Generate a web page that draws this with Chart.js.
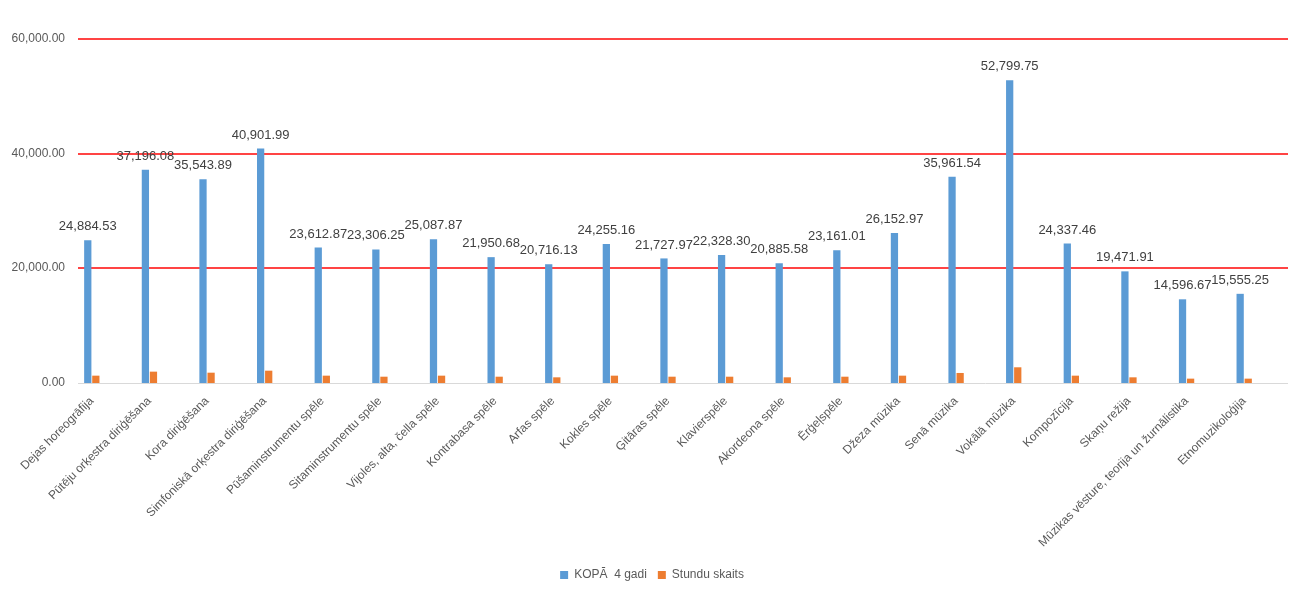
<!DOCTYPE html>
<html lang="lv">
<head>
    <meta charset="UTF-8">
    <title>KOPĀ 4 gadi</title>
    <script src="https://cdn.jsdelivr.net/npm/chart.js"></script>
    <style>
        html, body { margin: 0; padding: 0; background: #fff; }
        .wrap { width: 1296px; height: 591px; }
    </style>
</head>
<body>
    <div class="wrap"><canvas id="myChart"></canvas></div>
<script>
    var categories = [
        'Dejas horeogrāfija', 'Pūtēju orķestra diriģēšana', 'Kora diriģēšana',
        'Simfoniskā orķestra diriģēšana', 'Pūšaminstrumentu spēle', 'Sitaminstrumentu spēle',
        'Vijoles, alta, čella spēle', 'Kontrabasa spēle', 'Arfas spēle', 'Kokles spēle',
        'Ģitāras spēle', 'Klavierspēle', 'Akordeona spēle', 'Ērģeļspēle', 'Džeza mūzika',
        'Senā mūzika', 'Vokālā mūzika', 'Kompozīcija', 'Skaņu režija',
        'Mūzikas vēsture, teorija un žurnālistika', 'Etnomuzikoloģija'
    ];
    var kopa4gadi = [
        24884.53, 37196.08, 35543.89, 40901.99, 23612.87, 23306.25, 25087.87,
        21950.68, 20716.13, 24255.16, 21727.97, 22328.30, 20885.58, 23161.01,
        26152.97, 35961.54, 52799.75, 24337.46, 19471.91, 14596.67, 15555.25
    ];
    // small bars so only rough
    var stunduSkaits = [
        1280, 1980, 1800, 2150, 1280, 1100, 1280,
        1100, 990, 1280, 1100, 1100, 990, 1100,
        1280, 1750, 2740, 1280, 990, 760, 760
    ];
    var yTicks = [0, 20000, 40000, 60000];

    var fmt = new Intl.NumberFormat('en-US', { minimumFractionDigits: 2, maximumFractionDigits: 2 });
    var grey = '#595959';
    var font = '"Liberation Sans", Arial, sans-serif';

    // excel gridlines sit a bit right of the bars, so draw them (and the y labels) by hand
    var gridLines = {
        id: 'gridLines',
        beforeDatasetsDraw: function(chart) {
            var ctx = chart.ctx;
            var y = chart.scales.y;
            var a = chart.chartArea;
            ctx.save();
            ctx.font = '12px ' + font;
            ctx.fillStyle = grey;
            ctx.textAlign = 'right';
            ctx.textBaseline = 'middle';
            yTicks.forEach(function(v) {
                var py = Math.round(y.getPixelForValue(v));
                var off = v === 0 ? 0.5 : 0;
                ctx.beginPath();
                ctx.strokeStyle = v === 0 ? '#d9d9d9' : '#ff4444';
                ctx.lineWidth = v === 0 ? 1 : 2;
                ctx.moveTo(a.left + 15, py + off);
                ctx.lineTo(a.right + 15, py + off);
                ctx.stroke();
                ctx.fillText(fmt.format(v), a.left + 2, py);
            });
            ctx.restore();
        }
    };

    // value labels over the blue bars
    var valueLabels = {
        id: 'valueLabels',
        afterDatasetsDraw: function(chart) {
            var ctx = chart.ctx;
            var meta = chart.getDatasetMeta(0);
            ctx.save();
            ctx.font = '13px ' + font;
            ctx.fillStyle = '#404040';
            ctx.textAlign = 'center';
            ctx.textBaseline = 'bottom';
            meta.data.forEach(function(bar, i) {
                ctx.fillText(fmt.format(kopa4gadi[i]), bar.x, bar.y - 7);
            });
            ctx.restore();
        }
    };

    new Chart(document.querySelector('#myChart'), {
        type: 'bar',
        data: {
            labels: categories,
            datasets: [
                {
                    label: 'KOPĀ  4 gadi',
                    data: kopa4gadi,
                    backgroundColor: '#5b9bd5',
                    categoryPercentage: 0.28,
                    barPercentage: 0.9
                },
                {
                    label: 'Stundu skaits',
                    data: stunduSkaits,
                    backgroundColor: '#ed7d31',
                    categoryPercentage: 0.28,
                    barPercentage: 0.9
                }
            ]
        },
        options: {
            responsive: true,
            maintainAspectRatio: false,
            animation: false,
            layout: {
                padding: { left: 31, right: 23, top: 39, bottom: 0 }
            },
            scales: {
                x: {
                    grid: { display: false },
                    border: { display: false },
                    ticks: {
                        color: grey,
                        font: { family: font, size: 12 },
                        minRotation: 45,
                        maxRotation: 45,
                        autoSkip: false
                    },
                    afterFit: function(scale) { scale.height = 175; }
                },
                y: {
                    min: 0,
                    max: 60000,
                    afterBuildTicks: function(scale) {
                        scale.ticks = yTicks.map(function(v) { return { value: v }; });
                    },
                    border: { display: false },
                    grid: { display: false, drawTicks: false },
                    ticks: { display: false },
                    afterFit: function(scale) { scale.width = 32; }
                }
            },
            plugins: {
                legend: {
                    position: 'bottom',
                    labels: {
                        color: grey,
                        boxWidth: 8,
                        boxHeight: 8,
                        padding: 11,
                        font: { family: font, size: 12 }
                    }
                },
                tooltip: { enabled: false }
            }
        },
        plugins: [gridLines, valueLabels]
    });
</script>
</body>
</html>
